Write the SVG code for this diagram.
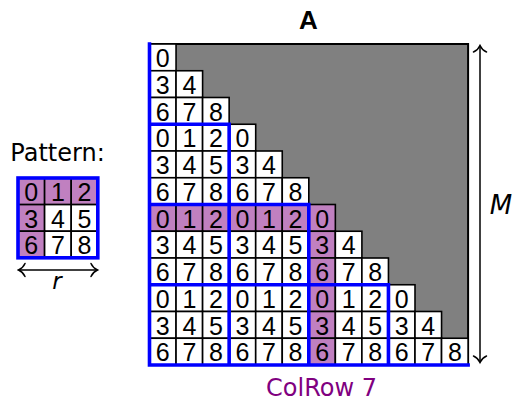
<svg xmlns="http://www.w3.org/2000/svg" width="515" height="402" viewBox="0 0 515 402">
  <style>
    .bg { fill: #ffffff; }
    .frame { fill: #808080; stroke: #000000; stroke-width: 2; }
    .c { fill: #ffffff; stroke: #000000; stroke-width: 1.6; }
    .p { fill: #c080c0; stroke: #000000; stroke-width: 1.6; }
    .d { font-family: "Liberation Sans", Arial, sans-serif; font-size: 25px; fill: #000000; text-anchor: middle; }
    .blk { fill: none; stroke: #0000ff; stroke-width: 3.6; stroke-linecap: square; }
    .lbl { font-family: "DejaVu Sans", sans-serif; font-size: 24px; fill: #000000; }
    .math { font-family: "DejaVu Sans", sans-serif; font-style: italic; fill: #000000; }
    .dim { fill: none; stroke: #000000; stroke-width: 1.5; marker-start: url(#tip); marker-end: url(#tip); }
  </style>
  <defs>
    <marker id="tip" viewBox="-9 -8 11 16" refX="0" refY="0" markerWidth="11" markerHeight="16" markerUnits="userSpaceOnUse" orient="auto-start-reverse">
      <path d="M -6.5 -6.5 C -5 -3 -1.8 -0.8 0 0 C -1.8 0.8 -5 3 -6.5 6.5" fill="none" stroke="#000000" stroke-width="1.5" stroke-linecap="round"/>
    </marker>
  </defs>
  <rect class="bg" x="0" y="0" width="515" height="402"/>

  <!-- title -->
  <text id="title" x="308.5" y="29" font-family="'Liberation Sans', Arial, sans-serif" font-weight="bold" font-size="26" text-anchor="middle">A</text>

  <!-- matrix body: grey upper part, lower-triangular cells -->
  <g id="matrix">
    <rect class="frame" x="149.5" y="44" width="318.6" height="321"/>

    <g id="row-0" transform="translate(0,44)">
      <rect class="c" x="149.5" width="26.55" height="26.75"/>
      <text class="d" x="162.78" y="23">0</text>
    </g>
    <g id="row-1" transform="translate(0,70.75)">
      <rect class="c" x="149.5" width="26.55" height="26.75"/>
      <rect class="c" x="176.05" width="26.55" height="26.75"/>
      <text class="d" x="162.78" y="23">3</text>
      <text class="d" x="189.33" y="23">4</text>
    </g>
    <g id="row-2" transform="translate(0,97.5)">
      <rect class="c" x="149.5" width="26.55" height="26.75"/>
      <rect class="c" x="176.05" width="26.55" height="26.75"/>
      <rect class="c" x="202.6" width="26.55" height="26.75"/>
      <text class="d" x="162.78" y="23">6</text>
      <text class="d" x="189.33" y="23">7</text>
      <text class="d" x="215.88" y="23">8</text>
    </g>
    <g id="row-3" transform="translate(0,124.25)">
      <rect class="c" x="149.5" width="26.55" height="26.75"/>
      <rect class="c" x="176.05" width="26.55" height="26.75"/>
      <rect class="c" x="202.6" width="26.55" height="26.75"/>
      <rect class="c" x="229.15" width="26.55" height="26.75"/>
      <text class="d" x="162.78" y="23">0</text>
      <text class="d" x="189.33" y="23">1</text>
      <text class="d" x="215.88" y="23">2</text>
      <text class="d" x="242.43" y="23">0</text>
    </g>
    <g id="row-4" transform="translate(0,151)">
      <rect class="c" x="149.5" width="26.55" height="26.75"/>
      <rect class="c" x="176.05" width="26.55" height="26.75"/>
      <rect class="c" x="202.6" width="26.55" height="26.75"/>
      <rect class="c" x="229.15" width="26.55" height="26.75"/>
      <rect class="c" x="255.7" width="26.55" height="26.75"/>
      <text class="d" x="162.78" y="23">3</text>
      <text class="d" x="189.33" y="23">4</text>
      <text class="d" x="215.88" y="23">5</text>
      <text class="d" x="242.43" y="23">3</text>
      <text class="d" x="268.98" y="23">4</text>
    </g>
    <g id="row-5" transform="translate(0,177.75)">
      <rect class="c" x="149.5" width="26.55" height="26.75"/>
      <rect class="c" x="176.05" width="26.55" height="26.75"/>
      <rect class="c" x="202.6" width="26.55" height="26.75"/>
      <rect class="c" x="229.15" width="26.55" height="26.75"/>
      <rect class="c" x="255.7" width="26.55" height="26.75"/>
      <rect class="c" x="282.25" width="26.55" height="26.75"/>
      <text class="d" x="162.78" y="23">6</text>
      <text class="d" x="189.33" y="23">7</text>
      <text class="d" x="215.88" y="23">8</text>
      <text class="d" x="242.43" y="23">6</text>
      <text class="d" x="268.98" y="23">7</text>
      <text class="d" x="295.53" y="23">8</text>
    </g>
    <g id="row-6" transform="translate(0,204.5)">
      <rect class="p" x="149.5" width="26.55" height="26.75"/>
      <rect class="p" x="176.05" width="26.55" height="26.75"/>
      <rect class="p" x="202.6" width="26.55" height="26.75"/>
      <rect class="p" x="229.15" width="26.55" height="26.75"/>
      <rect class="p" x="255.7" width="26.55" height="26.75"/>
      <rect class="p" x="282.25" width="26.55" height="26.75"/>
      <rect class="p" x="308.8" width="26.55" height="26.75"/>
      <text class="d" x="162.78" y="23">0</text>
      <text class="d" x="189.33" y="23">1</text>
      <text class="d" x="215.88" y="23">2</text>
      <text class="d" x="242.43" y="23">0</text>
      <text class="d" x="268.98" y="23">1</text>
      <text class="d" x="295.53" y="23">2</text>
      <text class="d" x="322.08" y="23">0</text>
    </g>
    <g id="row-7" transform="translate(0,231.25)">
      <rect class="c" x="149.5" width="26.55" height="26.75"/>
      <rect class="c" x="176.05" width="26.55" height="26.75"/>
      <rect class="c" x="202.6" width="26.55" height="26.75"/>
      <rect class="c" x="229.15" width="26.55" height="26.75"/>
      <rect class="c" x="255.7" width="26.55" height="26.75"/>
      <rect class="c" x="282.25" width="26.55" height="26.75"/>
      <rect class="p" x="308.8" width="26.55" height="26.75"/>
      <rect class="c" x="335.35" width="26.55" height="26.75"/>
      <text class="d" x="162.78" y="23">3</text>
      <text class="d" x="189.33" y="23">4</text>
      <text class="d" x="215.88" y="23">5</text>
      <text class="d" x="242.43" y="23">3</text>
      <text class="d" x="268.98" y="23">4</text>
      <text class="d" x="295.53" y="23">5</text>
      <text class="d" x="322.08" y="23">3</text>
      <text class="d" x="348.63" y="23">4</text>
    </g>
    <g id="row-8" transform="translate(0,258)">
      <rect class="c" x="149.5" width="26.55" height="26.75"/>
      <rect class="c" x="176.05" width="26.55" height="26.75"/>
      <rect class="c" x="202.6" width="26.55" height="26.75"/>
      <rect class="c" x="229.15" width="26.55" height="26.75"/>
      <rect class="c" x="255.7" width="26.55" height="26.75"/>
      <rect class="c" x="282.25" width="26.55" height="26.75"/>
      <rect class="p" x="308.8" width="26.55" height="26.75"/>
      <rect class="c" x="335.35" width="26.55" height="26.75"/>
      <rect class="c" x="361.9" width="26.55" height="26.75"/>
      <text class="d" x="162.78" y="23">6</text>
      <text class="d" x="189.33" y="23">7</text>
      <text class="d" x="215.88" y="23">8</text>
      <text class="d" x="242.43" y="23">6</text>
      <text class="d" x="268.98" y="23">7</text>
      <text class="d" x="295.53" y="23">8</text>
      <text class="d" x="322.08" y="23">6</text>
      <text class="d" x="348.63" y="23">7</text>
      <text class="d" x="375.18" y="23">8</text>
    </g>
    <g id="row-9" transform="translate(0,284.75)">
      <rect class="c" x="149.5" width="26.55" height="26.75"/>
      <rect class="c" x="176.05" width="26.55" height="26.75"/>
      <rect class="c" x="202.6" width="26.55" height="26.75"/>
      <rect class="c" x="229.15" width="26.55" height="26.75"/>
      <rect class="c" x="255.7" width="26.55" height="26.75"/>
      <rect class="c" x="282.25" width="26.55" height="26.75"/>
      <rect class="p" x="308.8" width="26.55" height="26.75"/>
      <rect class="c" x="335.35" width="26.55" height="26.75"/>
      <rect class="c" x="361.9" width="26.55" height="26.75"/>
      <rect class="c" x="388.45" width="26.55" height="26.75"/>
      <text class="d" x="162.78" y="23">0</text>
      <text class="d" x="189.33" y="23">1</text>
      <text class="d" x="215.88" y="23">2</text>
      <text class="d" x="242.43" y="23">0</text>
      <text class="d" x="268.98" y="23">1</text>
      <text class="d" x="295.53" y="23">2</text>
      <text class="d" x="322.08" y="23">0</text>
      <text class="d" x="348.63" y="23">1</text>
      <text class="d" x="375.18" y="23">2</text>
      <text class="d" x="401.73" y="23">0</text>
    </g>
    <g id="row-10" transform="translate(0,311.5)">
      <rect class="c" x="149.5" width="26.55" height="26.75"/>
      <rect class="c" x="176.05" width="26.55" height="26.75"/>
      <rect class="c" x="202.6" width="26.55" height="26.75"/>
      <rect class="c" x="229.15" width="26.55" height="26.75"/>
      <rect class="c" x="255.7" width="26.55" height="26.75"/>
      <rect class="c" x="282.25" width="26.55" height="26.75"/>
      <rect class="p" x="308.8" width="26.55" height="26.75"/>
      <rect class="c" x="335.35" width="26.55" height="26.75"/>
      <rect class="c" x="361.9" width="26.55" height="26.75"/>
      <rect class="c" x="388.45" width="26.55" height="26.75"/>
      <rect class="c" x="415" width="26.55" height="26.75"/>
      <text class="d" x="162.78" y="23">3</text>
      <text class="d" x="189.33" y="23">4</text>
      <text class="d" x="215.88" y="23">5</text>
      <text class="d" x="242.43" y="23">3</text>
      <text class="d" x="268.98" y="23">4</text>
      <text class="d" x="295.53" y="23">5</text>
      <text class="d" x="322.08" y="23">3</text>
      <text class="d" x="348.63" y="23">4</text>
      <text class="d" x="375.18" y="23">5</text>
      <text class="d" x="401.73" y="23">3</text>
      <text class="d" x="428.28" y="23">4</text>
    </g>
    <g id="row-11" transform="translate(0,338.25)">
      <rect class="c" x="149.5" width="26.55" height="26.75"/>
      <rect class="c" x="176.05" width="26.55" height="26.75"/>
      <rect class="c" x="202.6" width="26.55" height="26.75"/>
      <rect class="c" x="229.15" width="26.55" height="26.75"/>
      <rect class="c" x="255.7" width="26.55" height="26.75"/>
      <rect class="c" x="282.25" width="26.55" height="26.75"/>
      <rect class="p" x="308.8" width="26.55" height="26.75"/>
      <rect class="c" x="335.35" width="26.55" height="26.75"/>
      <rect class="c" x="361.9" width="26.55" height="26.75"/>
      <rect class="c" x="388.45" width="26.55" height="26.75"/>
      <rect class="c" x="415" width="26.55" height="26.75"/>
      <rect class="c" x="441.55" width="26.55" height="26.75"/>
      <text class="d" x="162.78" y="23">6</text>
      <text class="d" x="189.33" y="23">7</text>
      <text class="d" x="215.88" y="23">8</text>
      <text class="d" x="242.43" y="23">6</text>
      <text class="d" x="268.98" y="23">7</text>
      <text class="d" x="295.53" y="23">8</text>
      <text class="d" x="322.08" y="23">6</text>
      <text class="d" x="348.63" y="23">7</text>
      <text class="d" x="375.18" y="23">8</text>
      <text class="d" x="401.73" y="23">6</text>
      <text class="d" x="428.28" y="23">7</text>
      <text class="d" x="454.83" y="23">8</text>
    </g>

    <!-- 3x3 block boundaries -->
    <path id="blocks" class="blk" d="M149.5 44 V365 H468.1 M149.5 124.25 H229.15 V365 M149.5 204.5 H308.8 V365 M149.5 284.75 H388.45 V365"/>
  </g>

  <!-- the 3x3 pattern -->
  <g id="pattern">
    <text class="lbl" x="57.5" y="160.5" text-anchor="middle">Pattern:</text>
    <rect class="p" x="18" y="178" width="26.6" height="26.6"/>
    <rect class="p" x="44.6" y="178" width="26.6" height="26.6"/>
    <rect class="p" x="71.2" y="178" width="26.6" height="26.6"/>
    <rect class="p" x="18" y="204.6" width="26.6" height="26.6"/>
    <rect class="c" x="44.6" y="204.6" width="26.6" height="26.6"/>
    <rect class="c" x="71.2" y="204.6" width="26.6" height="26.6"/>
    <rect class="p" x="18" y="231.2" width="26.6" height="26.6"/>
    <rect class="c" x="44.6" y="231.2" width="26.6" height="26.6"/>
    <rect class="c" x="71.2" y="231.2" width="26.6" height="26.6"/>
    <text class="d" x="31.3" y="201">0</text>
    <text class="d" x="57.9" y="201">1</text>
    <text class="d" x="84.5" y="201">2</text>
    <text class="d" x="31.3" y="227.6">3</text>
    <text class="d" x="57.9" y="227.6">4</text>
    <text class="d" x="84.5" y="227.6">5</text>
    <text class="d" x="31.3" y="254.2">6</text>
    <text class="d" x="57.9" y="254.2">7</text>
    <text class="d" x="84.5" y="254.2">8</text>
    <rect class="blk" x="18" y="178" width="79.8" height="79.8"/>
  </g>

  <!-- dimension arrows -->
  <g id="connectors">
    <path id="dim-r" class="dim" d="M18.5 270 H97.5"/>
    <path id="dim-M" class="dim" d="M480 45.5 V362.5"/>
  </g>

  <!-- labels -->
  <text id="label-r" class="math" x="57" y="289" font-size="23" text-anchor="middle">r</text>
  <text id="label-M" class="math" x="501" y="214" font-size="26" text-anchor="middle">M</text>
  <text id="label-colrow" x="321.5" y="395.5" font-family="'DejaVu Sans', sans-serif" font-size="24" fill="#800080" text-anchor="middle">ColRow 7</text>
</svg>
